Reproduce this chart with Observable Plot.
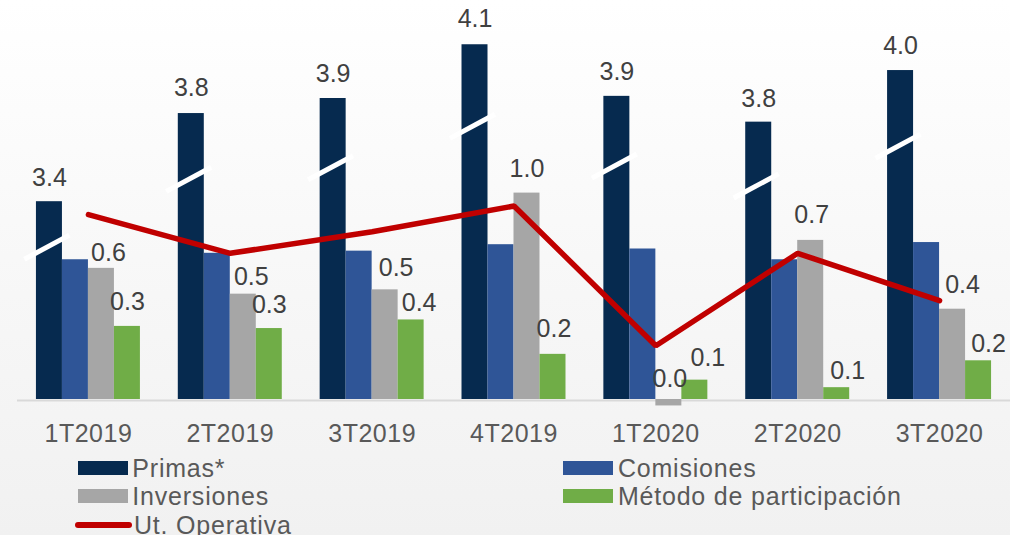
<!DOCTYPE html>
<html>
<head>
<meta charset="utf-8">
<script src="https://cdn.jsdelivr.net/npm/d3@7"></script>
<script src="https://cdn.jsdelivr.net/npm/@observablehq/plot@0.6"></script>
<style>
  html, body { margin: 0; padding: 0; }
  body {
    width: 1010px; height: 535px; overflow: hidden;
    background: linear-gradient(to bottom, #ffffff 0%, #f7f7f7 55%, #f1f1f1 100%);
    font-family: Arial, "Liberation Sans", sans-serif;
  }
  #wrap { position: relative; width: 1010px; height: 535px; }
  #chart { position: absolute; left: 0; top: 0; }
  .lg { position: absolute; font-size: 25px; line-height: 28.3px; height: 28.3px; color: #595959;
        letter-spacing: 0.8px; display: flex; align-items: center; white-space: nowrap; }
  .sw { width: 50px; height: 14px; margin-right: 4.6px; flex: none; }
  .swl { width: 57px; height: 6px; border-radius: 3px; margin-left: -2.7px; margin-right: 2px; flex: none; }
</style>
</head>
<body>
<div id="wrap">
  <div id="chart"></div>
  <div id="legend"></div>
</div>
<script>
// ---------------- data ----------------
const quarters = ["1T2019", "2T2019", "3T2019", "4T2019", "1T2020", "2T2020", "3T2020"];
const seriesNames = ["Primas*", "Comisiones", "Inversiones", "Método de participación"];
const lineName = "Ut. Operativa";

const primas      = [3.40, 3.81, 3.88, 4.13, 3.89, 3.77, 4.01]; // drawn on a broken axis
const comisiones  = [0.65, 0.68, 0.69, 0.72, 0.70, 0.65, 0.73];
const inversiones = [0.61, 0.49, 0.51, 0.96, -0.03, 0.74, 0.42];
const metodo      = [0.34, 0.33, 0.37, 0.21, 0.09, 0.055, 0.18];
const utOperativa = [0.86, 0.68, 0.78, 0.90, 0.25, 0.68, 0.46];

// amount removed from Primas by the axis break (shown by the white slash)
const primasBreak = 2.48;

// ---------------- style / layout ----------------
const colors = {
  "Primas*": "#062a4f",
  "Comisiones": "#2f5597",
  "Inversiones": "#a6a6a6",
  "Método de participación": "#70ad47",
  "Ut. Operativa": "#c00000"
};
const labelled = ["Primas*", "Inversiones", "Método de participación"];
// manual nudges of some data labels (px), as in the original
const labelNudge = {
  "Primas*":                 {dx: [0, 0, 0, 0, 0, 0, 0],      dy: [1, -1, 0, -1, 0, 1, 0]},
  "Inversiones":             {dx: [7, 8, 11, 0, 1, 1, 10],    dy: [9, 7, 3, 0, 4, -1, 0]},
  "Método de participación": {dx: [0, 0, 8, 1, 13, 11, 10],   dy: [0, 1, 8, -1, 2, 8, 8]}
};
const groupWidth = 0.733;           // share of a category step used by the 4 bars
const barW = groupWidth / 4;
const slashAt = 0.77;               // slash position as share of the Primas bar height

const values = {
  "Primas*": primas,
  "Comisiones": comisiones,
  "Inversiones": inversiones,
  "Método de participación": metodo
};
const shown = (name, v) => name === "Primas*" ? v - primasBreak : v;

const bars = [];
seriesNames.forEach((name, k) => {
  values[name].forEach((v, i) => {
    const x1 = i - groupWidth / 2 + k * barW;
    bars.push({name, i, k, value: v, h: shown(name, v), x1, x2: x1 + barW, xc: x1 + barW / 2});
  });
});
const labels = bars.filter(d => labelled.includes(d.name));
const slashes = bars.filter(d => d.name === "Primas*");
const linePts = utOperativa.map((v, i) => ({i, v}));
const fmt = v => (Math.round(v * 10) / 10).toFixed(1);

const slashHalfX = 0.1586, slashHalfY = 0.056, slashShift = -0.018;

const plot = Plot.plot({
  width: 1010,
  height: 452,
  marginLeft: 17,
  marginRight: 0,
  marginTop: 0,
  marginBottom: 53,
  style: {background: "transparent", fontFamily: "Arial, 'Liberation Sans', sans-serif", fontSize: "25px", overflow: "visible"},
  x: {type: "linear", domain: [-0.5, 6.5], axis: null},
  y: {type: "linear", domain: [0, 1], range: [399, 184], axis: null},
  marks: [
    Plot.ruleY([0], {stroke: "#d9d9d9", strokeWidth: 2, dy: 1}),
    Plot.rect(bars, {x1: "x1", x2: "x2", y1: 0, y2: "h", fill: d => colors[d.name]}),
    Plot.link(slashes, {
      x1: d => d.xc + slashShift - slashHalfX,
      x2: d => d.xc + slashShift + slashHalfX,
      y1: d => d.h * slashAt - slashHalfY,
      y2: d => d.h * slashAt + slashHalfY,
      stroke: "white", strokeWidth: 5, strokeLinecap: "butt"
    }),
    Plot.line(linePts, {x: "i", y: "v", stroke: colors[lineName], strokeWidth: 5.5, strokeLinejoin: "miter", strokeLinecap: "round"}),
    Plot.text(labels, {
      x: "xc",
      y: d => Math.max(d.h, 0),
      text: d => fmt(d.value),
      lineAnchor: "bottom",
      fill: "#404040",
      fontSize: 25
    }),
    Plot.text(quarters, {
      x: (d, i) => i,
      frameAnchor: "bottom",
      text: d => d,
      lineAnchor: "top",
      dy: 25,
      fill: "#595959",
      fontSize: 25
    })
  ]
});
document.getElementById("chart").appendChild(plot);

// text layers in mark order: [0] = data labels, [1] = quarter labels
const textLayers = d3.select(plot).selectAll("g[aria-label='text']").nodes();

// apply the per-label nudges (relative offsets of the data labels)
d3.select(textLayers[0]).selectAll("text").each(function (_, j) {
  const d = labels[j];
  const n = labelNudge[d.name];
  const base = -16.6;
  const t = this.getAttribute("transform") || "";
  this.setAttribute("transform", t + ` translate(${n.dx[d.i]},${base + n.dy[d.i]})`);
});
d3.select(textLayers[1]).selectAll("text").style("letter-spacing", "0.5px");

// ---------------- legend ----------------
const legend = document.getElementById("legend");
const legendItems = [
  {name: "Primas*", left: 77.7, row: 0, type: "bar"},
  {name: "Comisiones", left: 563.3, row: 0, type: "bar"},
  {name: "Inversiones", left: 77.7, row: 1, type: "bar"},
  {name: "Método de participación", left: 563.3, row: 1, type: "bar"},
  {name: lineName, left: 77.7, row: 2, type: "line"}
];
legendItems.forEach(it => {
  const el = document.createElement("div");
  el.className = "lg";
  el.style.left = it.left + "px";
  el.style.top = (453.9 + it.row * 28.3) + "px";
  const sw = document.createElement("span");
  sw.className = it.type === "bar" ? "sw" : "swl";
  sw.style.background = colors[it.name];
  const tx = document.createElement("span");
  tx.textContent = it.name;
  el.appendChild(sw);
  el.appendChild(tx);
  legend.appendChild(el);
});
</script>
</body>
</html>
